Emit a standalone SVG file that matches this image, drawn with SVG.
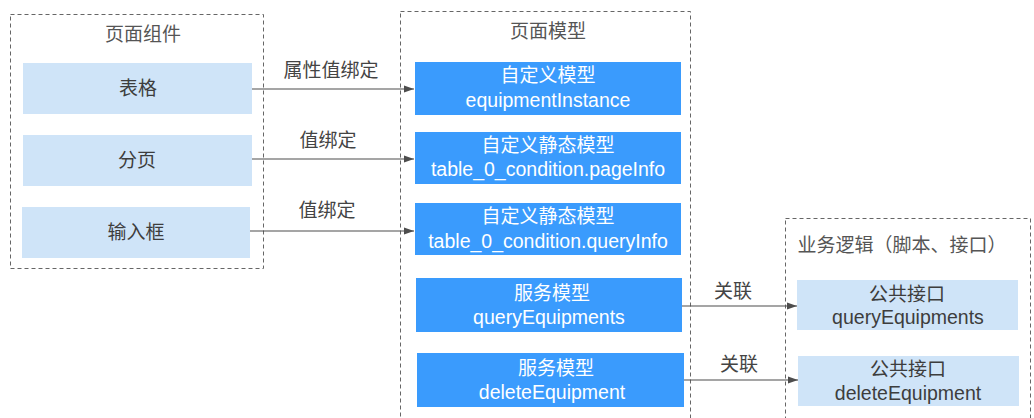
<svg xmlns="http://www.w3.org/2000/svg" width="1034" height="418" viewBox="0 0 1034 418">
<defs>
<marker id="arr" viewBox="0 0 10 10" refX="10" refY="5" markerWidth="10" markerHeight="10" markerUnits="userSpaceOnUse" orient="auto">
<path d="M0,1.5 L10,5 L0,8.5 z" fill="#4d4d4d"/>
</marker>
<style>
text{font-family:"Liberation Sans","Noto Sans CJK SC",sans-serif;font-size:19px;text-anchor:middle;}
text.en{font-size:19.5px;}
.grp{fill:none;stroke:#666;stroke-width:1;stroke-dasharray:4 3;}
.light{fill:#cfe4f8;}
.blue{fill:#3a9bfd;}
.dk{fill:#3d3d3d;}
.wt{fill:#fff;}
.title{fill:#555;}
.conn line{stroke:#4d4d4d;stroke-width:1.2;marker-end:url(#arr);}
.lbl{fill:#444;}
</style>
</defs>
<rect width="1034" height="418" fill="#fff"/>
<g id="group-components">
<rect class="grp" x="10.5" y="14.5" width="253" height="254"/>
<text class="title" x="143" y="41">页面组件</text>
</g>
<g id="group-models">
<rect class="grp" x="400.5" y="11.5" width="290" height="420"/>
<text class="title" x="548" y="38">页面模型</text>
</g>
<g id="group-logic">
<rect class="grp" x="785.5" y="218.5" width="245" height="220"/>
<text class="title" x="902" y="252">业务逻辑（脚本、接口）</text>
</g>
<g id="node-table"><rect class="light" x="23" y="63" width="229" height="51"/><text class="dk" x="138" y="95">表格</text></g>
<g id="node-page"><rect class="light" x="23" y="135" width="229" height="51"/><text class="dk" x="137" y="167">分页</text></g>
<g id="node-input"><rect class="light" x="22" y="207" width="228" height="51"/><text class="dk" x="136" y="239">输入框</text></g>
<g id="node-m1"><rect class="blue" x="415" y="62" width="266" height="53"/><text class="wt" x="548" y="82">自定义模型</text><text class="wt en" x="548" y="107">equipmentInstance</text></g>
<g id="node-m2"><rect class="blue" x="415" y="132" width="266" height="52"/><text class="wt" x="548" y="152">自定义静态模型</text><text class="wt en" x="548" y="176">table_0_condition.pageInfo</text></g>
<g id="node-m3"><rect class="blue" x="415" y="203" width="266" height="52"/><text class="wt" x="548" y="223">自定义静态模型</text><text class="wt en" x="548" y="248">table_0_condition.queryInfo</text></g>
<g id="node-m4"><rect class="blue" x="416" y="278" width="266" height="54"/><text class="wt" x="552" y="300">服务模型</text><text class="wt en" x="549" y="324">queryEquipments</text></g>
<g id="node-m5"><rect class="blue" x="417" y="353" width="267" height="54"/><text class="wt" x="556" y="375">服务模型</text><text class="wt en" x="552" y="399">deleteEquipment</text></g>
<g id="node-api1"><rect class="light" x="797" y="280" width="221" height="50"/><text class="dk" x="907" y="301">公共接口</text><text class="dk en" x="908" y="324">queryEquipments</text></g>
<g id="node-api2"><rect class="light" x="798" y="356" width="221" height="50"/><text class="dk" x="908" y="376">公共接口</text><text class="dk en" x="908" y="400">deleteEquipment</text></g>
<g id="connectors" class="conn">
<line x1="252" y1="89" x2="414" y2="89"/>
<line x1="252" y1="159" x2="414" y2="159"/>
<line x1="250" y1="231" x2="414" y2="231"/>
<line x1="682" y1="306" x2="797" y2="306"/>
<line x1="684" y1="380" x2="798" y2="380"/>
<text class="lbl" x="331" y="77">属性值绑定</text>
<text class="lbl" x="328" y="147">值绑定</text>
<text class="lbl" x="327" y="217">值绑定</text>
<text class="lbl" x="733" y="298">关联</text>
<text class="lbl" x="739" y="371">关联</text>
</g>
</svg>
